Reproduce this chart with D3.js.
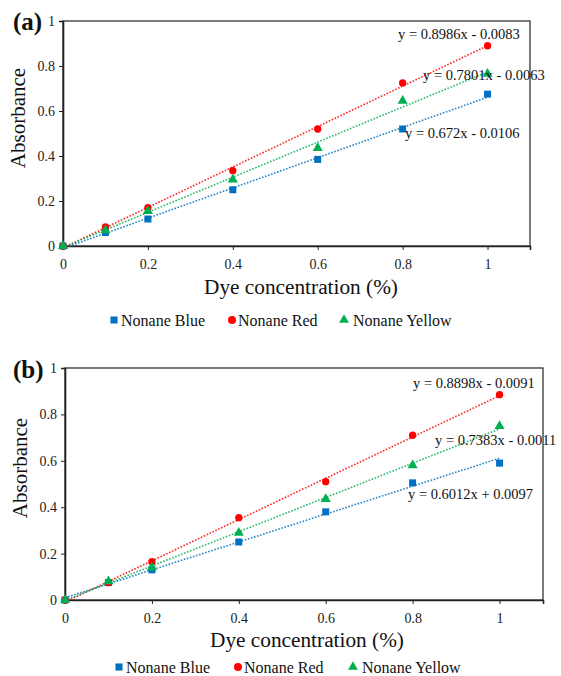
<!DOCTYPE html>
<html><head><meta charset="utf-8">
<script src="https://cdn.jsdelivr.net/npm/d3@7"></script>
<style>body{margin:0;background:#fff}</style>
</head><body><svg id="c" width="561" height="676" font-family="Liberation Serif"></svg>
<script>
const xValues = [0, 0.1, 0.2, 0.4, 0.6, 0.8, 1];
const seriesNames = ["Nonane Blue", "Nonane Red", "Nonane Yellow"];
const seriesColors = ["#0070C0", "#FF0000", "#00B050"];
const xTicks = [0, 0.2, 0.4, 0.6, 0.8, 1];
const yTicks = [0, 0.2, 0.4, 0.6, 0.8, 1];
// Panel (a)
const aBlue = [0, 0.06, 0.12, 0.25, 0.385, 0.52, 0.675];
const aRed = [0, 0.085, 0.17, 0.335, 0.52, 0.725, 0.89];
const aYellow = [0, 0.07, 0.155, 0.295, 0.435, 0.645, 0.765];
const aSlopes = [0.672, 0.8986, 0.7801];
const aIntercepts = [-0.0106, -0.0083, -0.0063];
const aLabels = ["y = 0.672x - 0.0106", "y = 0.8986x - 0.0083", "y = 0.7801x - 0.0063"];
// Panel (b)
const bBlue = [0, 0.075, 0.13, 0.25, 0.38, 0.505, 0.59];
const bRed = [0, 0.075, 0.165, 0.355, 0.51, 0.71, 0.885];
const bYellow = [0, 0.08, 0.14, 0.29, 0.435, 0.58, 0.75];
const bSlopes = [0.6012, 0.8898, 0.7383];
const bIntercepts = [0.0097, -0.0091, -0.0011];
const bLabels = ["y = 0.6012x + 0.0097", "y = 0.8898x - 0.0091", "y = 0.7383x - 0.0011"];

const FONT = "Liberation Serif";
const svg = d3.select("#c");

function panel(cfg) {
  const g = svg.append("g").attr("font-family", FONT);
  const x = d3.scaleLinear().domain([0, 1.1]).range([cfg.left, cfg.right]);
  const y = d3.scaleLinear().domain([0, 1]).range([cfg.bottom, cfg.top]);
  g.append("rect").attr("x", cfg.left).attr("y", cfg.top)
    .attr("width", cfg.right - cfg.left).attr("height", cfg.bottom - cfg.top)
    .attr("fill", "none").attr("stroke", "#333").attr("stroke-width", 1.3);
  const xa = g.append("g").attr("transform", `translate(0,${cfg.bottom})`)
    .call(d3.axisBottom(x).tickValues(xTicks).tickFormat(d3.format("~g")).tickSize(4).tickPadding(9));
  const ya = g.append("g").attr("transform", `translate(${cfg.left},0)`)
    .call(d3.axisLeft(y).tickValues(yTicks).tickFormat(d3.format("~g")).tickSize(4).tickPadding(4));
  [xa, ya].forEach(a => {
    a.attr("font-family", FONT).attr("font-size", 14);
    a.select(".domain").attr("stroke", "#222").attr("stroke-width", 1.6);
    a.selectAll(".tick line").attr("stroke", "#222");
    a.selectAll("text").attr("font-family", FONT).attr("font-size", 14).attr("fill", "#222");
  });
  cfg.series.forEach((s, i) => {
    g.append("line")
      .attr("x1", x(0)).attr("y1", y(cfg.slopes[i] * 0 + cfg.intercepts[i]))
      .attr("x2", x(1)).attr("y2", y(cfg.slopes[i] * 1 + cfg.intercepts[i]))
      .attr("stroke", seriesColors[i]).attr("stroke-width", 1.6)
      .attr("stroke-dasharray", "1.6,1.6").attr("opacity", 0.85);
  });
  cfg.series.forEach((s, i) => {
    const sym = [d3.symbolSquare, d3.symbolCircle, d3.symbolTriangle][i];
    const size = [49, 42, 44][i];
    g.selectAll(null).data(s).enter().append("path")
      .attr("d", d3.symbol().type(sym).size(size))
      .attr("transform", (d, j) => `translate(${x(xValues[j])},${y(d)})`)
      .attr("fill", seriesColors[i]);
  });
  cfg.labels.forEach((t, i) => {
    g.append("text").attr("x", cfg.labelPos[i][0]).attr("y", cfg.labelPos[i][1])
      .attr("font-family", FONT).attr("font-size", 14.5).attr("fill", "#111").text(t);
  });
  g.append("text").attr("x", cfg.titleX).attr("y", cfg.titleY)
    .attr("font-family", FONT).attr("text-anchor", "middle").attr("font-size", 21.3).attr("fill", "#111").text("Dye concentration (%)");
  g.append("text").attr("transform", `translate(${cfg.left - 38},${cfg.yTitleC}) rotate(-90)`)
    .attr("font-family", FONT).attr("text-anchor", "middle").attr("font-size", 21).attr("fill", "#111").text("Absorbance");
  g.append("text").attr("x", 13).attr("y", cfg.tagY).attr("font-size", 25)
    .attr("font-family", FONT).attr("font-weight", "bold").attr("fill", "#111").text(cfg.tag);
  cfg.legendX.forEach((lx, i) => {
    const sym = [d3.symbolSquare, d3.symbolCircle, d3.symbolTriangle][i];
    g.append("path").attr("d", d3.symbol().type(sym).size([50, 50, 42][i]))
      .attr("transform", `translate(${lx},${cfg.legendY - 1})`).attr("fill", seriesColors[i]);
    g.append("text").attr("x", lx + [7, 6, 9][i]).attr("y", cfg.legendY + 5)
      .attr("font-family", FONT).attr("font-size", 16).attr("fill", "#111").text(seriesNames[i]);
  });
}

panel({
  tag: "(a)", tagY: 30, left: 63, right: 530, top: 21, bottom: 246,
  series: [aBlue, aRed, aYellow], slopes: aSlopes, intercepts: aIntercepts, labels: aLabels,
  labelPos: [[405, 138], [398, 39], [423, 80]],
  titleX: 301, titleY: 294, yTitleC: 118,
  legendX: [114, 232, 344], legendY: 321
});
panel({
  tag: "(b)", tagY: 378, left: 65, right: 543, top: 368, bottom: 600,
  series: [bBlue, bRed, bYellow], slopes: bSlopes, intercepts: bIntercepts, labels: bLabels,
  labelPos: [[408, 499], [413, 388], [435, 445]],
  titleX: 307, titleY: 647, yTitleC: 468,
  legendX: [119, 238, 353], legendY: 668
});
</script></body></html>
